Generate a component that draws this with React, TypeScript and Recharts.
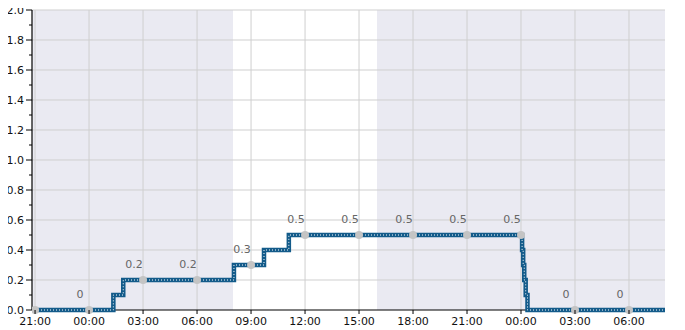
import { ComposedChart, Line, XAxis, YAxis, ReferenceArea, ReferenceLine, LabelList } from "recharts";

// hours since 21:00 on the first day
const stepTimes = [-0.17, 4.26, 4.35, 4.8, 4.9, 10.95, 11.05, 12.62, 12.72, 14.0, 14.1, 27.02, 27.06, 27.12, 27.18, 27.26, 27.36, 35];
const stepValues = [0, 0, 0.1, 0.1, 0.2, 0.2, 0.3, 0.3, 0.4, 0.4, 0.5, 0.5, 0.4, 0.3, 0.2, 0.1, 0, 0];

const pointTimes = [0, 3, 6, 9, 12, 15, 18, 21, 24, 27, 30, 33];
const pointValues = [0, 0, 0.2, 0.2, 0.3, 0.5, 0.5, 0.5, 0.5, 0.5, 0, 0];
const pointLabels = ["", "0", "0.2", "0.2", "0.3", "0.5", "0.5", "0.5", "0.5", "0.5", "0", "0"];

const xTicks = [0, 3, 6, 9, 12, 15, 18, 21, 24, 27, 30, 33];
const xTickLabels = ["21:00", "00:00", "03:00", "06:00", "09:00", "12:00", "15:00", "18:00", "21:00", "00:00", "03:00", "06:00"];
const yTicks = [0, 0.1, 0.2, 0.3, 0.4, 0.5, 0.6, 0.7, 0.8, 0.9, 1.0, 1.1, 1.2, 1.3, 1.4, 1.5, 1.6, 1.7, 1.8, 1.9, 2.0];
const yGrid = [0.2, 0.4, 0.6, 0.8, 1.0, 1.2, 1.4, 1.6, 1.8, 2.0];

// shaded periods (hours since 21:00)
const shaded = [
  [-0.17, 11],
  [19, 35],
];

const stepData = stepTimes.map((t, i) => ({ t, v: stepValues[i] }));
const pointData = pointTimes.map((t, i) => ({ t, v: pointValues[i], lbl: pointLabels[i] }));

const FONT = "DejaVu Sans, sans-serif";

const YTick = (props: any) => {
  const { x, y, payload } = props;
  const v = payload.value;
  const major = Math.round(v * 10) % 2 === 0;
  return (
    <g>
      <line x1={x + 8 - (major ? 6 : 3)} x2={x + 8} y1={y} y2={y} stroke="#000" strokeWidth={1} />
      {major && (
        <text x={x} y={y + 3.5} textAnchor="end" fontSize={11} fontFamily={FONT} fill="#111">
          {v.toFixed(1)}
        </text>
      )}
    </g>
  );
};

const XTick = (props: any) => {
  const { x, y, index } = props;
  return (
    <g>
      <line x1={x} x2={x} y1={y - 8} y2={y - 4} stroke="#000" strokeWidth={1} />
      <text x={x} y={y + 7} textAnchor="middle" fontSize={11} fontFamily={FONT} fill="#111">
        {xTickLabels[index]}
      </text>
    </g>
  );
};

const PointLabel = (props: any) => {
  const { x, y, value } = props;
  if (!value) return null;
  return (
    <text x={x - 9} y={y - 12} textAnchor="middle" fontSize={11} fontFamily={FONT} fill="#666666">
      {value}
    </text>
  );
};

export default function App() {
  return (
    <div style={{ margin: "-8px 0 0 -8px", width: 685, height: 330 }}>
      <ComposedChart width={685} height={330} margin={{ top: 10, right: 20, left: 0, bottom: 0 }}>
        <XAxis
          dataKey="t"
          type="number"
          domain={[-0.17, 35]}
          ticks={xTicks}
          tick={<XTick />}
          tickLine={false}
          axisLine={false}
          height={20}
          allowDataOverflow
        />
        <YAxis
          type="number"
          domain={[0, 2]}
          ticks={yTicks}
          tick={<YTick />}
          tickLine={false}
          axisLine={false}
          width={32}
          interval={0}
        />
        {shaded.map(([a, b], i) => (
          <ReferenceArea key={`s${i}`} x1={a} x2={b} fill="#eaeaf2" fillOpacity={1} stroke="none" ifOverflow="hidden" />
        ))}
        {xTicks.map((t) => (
          <ReferenceLine key={`gx${t}`} x={t} stroke="#cfcfcf" strokeWidth={1} />
        ))}
        {yGrid.map((v) => (
          <ReferenceLine key={`gy${v}`} y={v} stroke="#cfcfcf" strokeWidth={1} />
        ))}
        <ReferenceLine x={-0.17} stroke="#000" strokeWidth={1.2} />
        <ReferenceLine y={0} stroke="#000" strokeWidth={1.2} />
        <Line
          data={stepData}
          dataKey="v"
          type="stepAfter"
          stroke="#135b8a"
          strokeWidth={4.5}
          dot={false}
          isAnimationActive={false}
        />
        <Line
          data={stepData}
          dataKey="v"
          type="stepAfter"
          stroke="#ffffff"
          strokeWidth={1}
          strokeDasharray="1 2"
          dot={false}
          isAnimationActive={false}
        />
        <Line
          data={pointData}
          dataKey="v"
          stroke="none"
          dot={{ r: 4, fill: "#c4c4c4", stroke: "none" }}
          isAnimationActive={false}
        >
          <LabelList dataKey="lbl" content={<PointLabel />} />
        </Line>
      </ComposedChart>
    </div>
  );
}
